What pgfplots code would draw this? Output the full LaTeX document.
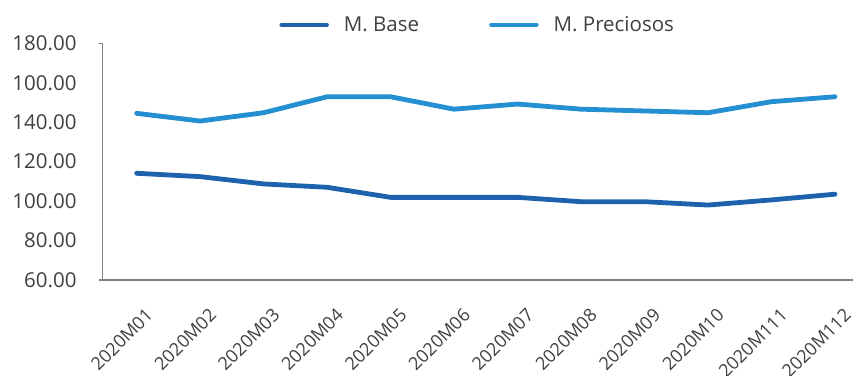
\documentclass[border=0pt]{standalone}
\usepackage{fontspec}
\setmainfont{Open Sans}
\usepackage{pgfplots}
\pgfplotsset{compat=1.18}

\definecolor{baseblue}{RGB}{30,98,173}
\definecolor{preblue}{RGB}{36,143,209}
\definecolor{axisgray}{RGB}{128,128,128}
\definecolor{txtgray}{RGB}{64,64,64}

\newcommand{\chartfont}{\fontsize{20.5}{24}\selectfont}
\newcommand{\catfont}{\fontsize{18}{21}\selectfont}

\begin{document}
\begin{tikzpicture}[x=1pt,y=1pt]
\begin{axis}[
  at={(0,0)}, anchor=south west,
  scale only axis, width=750pt, height=236.7pt,
  xmin=-0.535, xmax=11.28, ymin=60, ymax=180,
  axis x line*=bottom, axis y line*=left,
  axis line style={draw=axisgray, line width=1.2pt},
  xtick={0,...,11},
  xticklabels={2020M01,2020M02,2020M03,2020M04,2020M05,2020M06,2020M07,2020M08,2020M09,2020M10,2020M111,2020M112},
  ytick={60,80,100,120,140,160,180},
  yticklabels={60.00,80.00,100.00,120.00,140.00,100.00,180.00},
  major tick length=0pt,
  tick style={draw=none},
  extra y ticks={60,180},
  extra y tick labels={},
  extra y tick style={major tick length=4pt, tick align=outside,
    tick style={draw=axisgray, line width=1.2pt}},
  tick label style={font=\chartfont, text=txtgray, inner sep=0pt},
  yticklabel style={anchor=east, xshift=-26pt},
  xticklabel style={font=\catfont, xshift=8pt, yshift=-27pt, rotate=45, anchor=north east},
  legend style={at={(0.5,1)}, anchor=south, yshift=6pt, draw=none, fill=none,
    font=\chartfont, text=txtgray, legend columns=2,
    /tikz/every odd column/.append style={column sep=13pt},
    /tikz/every even column/.append style={column sep=68pt}},
  legend image code/.code={\draw[#1, line width=4.5pt, line cap=round] (0pt,0pt) -- (45pt,0pt);},
  every axis plot/.append style={line width=4.8pt, line cap=round, line join=round},
]
\addplot[baseblue] coordinates {
  (0,114.1) (1,112.4) (2,108.7) (3,107.0) (4,101.9) (5,101.9)
  (6,101.9) (7,99.7) (8,99.7) (9,98.0) (10,100.6) (11,103.5)
};
\addlegendentry{M. Base}
\addplot[preblue] coordinates {
  (0,144.5) (1,140.6) (2,144.8) (3,152.9) (4,152.9) (5,146.6)
  (6,149.2) (7,146.6) (8,145.7) (9,144.8) (10,150.4) (11,152.9)
};
\addlegendentry{M. Preciosos}
\end{axis}
\pgfresetboundingbox
\path[use as bounding box] (-102.7,-95) rectangle (755.3,280);
\end{tikzpicture}
\end{document}
